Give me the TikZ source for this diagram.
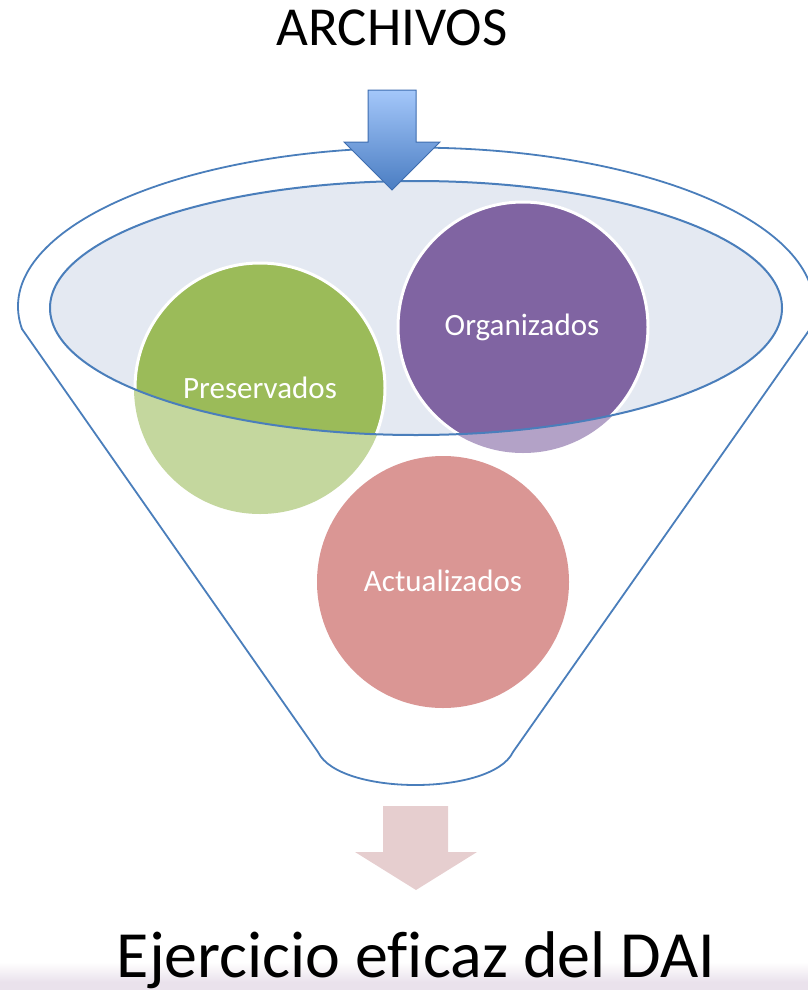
\documentclass[tikz,border=0pt]{standalone}
\usepackage{fontspec}
\setmainfont{Carlito}[Ligatures={NoCommon}]
\definecolor{funblue}{HTML}{4A7EBB}
\definecolor{ellfill}{HTML}{E4E9F2}
\definecolor{greenD}{HTML}{9BBB59}
\definecolor{greenL}{HTML}{C4D79E}
\definecolor{purpD}{HTML}{8064A2}
\definecolor{purpL}{HTML}{B3A2C7}
\definecolor{redL}{HTML}{DA9694}
\definecolor{arrTop}{HTML}{A4C7FA}
\definecolor{arrBot}{HTML}{4A7DC2}
\definecolor{arrEdge}{HTML}{3E6DAF}
\definecolor{pinkarr}{HTML}{E6CECF}
\definecolor{band}{HTML}{EAE2EC}
\tikzset{
  funline/.style={draw=funblue, line width=1.8pt},
  lbl/.style={text=white, font=\fontsize{31}{36}\selectfont, inner sep=0pt},
  bigtxt/.style={font=\fontsize{#1}{#1}\selectfont, inner sep=0pt, text=black},
}
\begin{document}
\begin{tikzpicture}[x=1pt,y=1pt]
\useasboundingbox (0,0) rectangle (808,-990);
% bottom band
\shade[top color=white, bottom color=band] (0,-962) rectangle (808,-982);
\fill[band] (0,-982) rectangle (808,-990);
% outer funnel
\coordinate (lc) at (318,-752);
\coordinate (rc) at (513,-752);
\path[funline, fill=white] (rc) .. controls (492,-796) and (339,-796) .. (lc)
  -- (22,-329) arc[start angle=188.1, end angle=-8.1, x radius=398, y radius=159] -- cycle;
% inner ellipse
\fill[ellfill] (416,-308) ellipse [x radius=366, y radius=127];
% light circles
\fill[greenL] (260,-388) circle (126);
\fill[purpL] (523,-327) circle (126);
\fill[redL] (443,-582) circle (126);
\begin{scope}
  \clip (416,-308) ellipse [x radius=366, y radius=127];
  \filldraw[fill=greenD, draw=white, line width=3pt] (260,-388) circle (125);
  \filldraw[fill=purpD, draw=white, line width=3pt] (523,-327) circle (125);
\end{scope}
\draw[funblue, line width=2pt] (416,-308) ellipse [x radius=366, y radius=127];
% labels
\node[lbl] (pres) at (260,-388) {Preservados};
\node[lbl] (org) at (522,-327) {Organizados};
\node[lbl] (act) at (443,-581) {Actualizados};
% top arrow
\path[top color=arrTop, bottom color=arrBot, draw=arrEdge, line width=1pt]
  (368,-90) -- (416,-90) -- (416,-142) -- (440,-142) -- (392,-190) -- (344,-142) -- (368,-142) -- cycle;
% bottom arrow
\fill[pinkarr] (383,-806) -- (448,-806) -- (448,-852) -- (477,-852) -- (416,-890) -- (355,-852) -- (383,-852) -- cycle;
% texts
\node[bigtxt=55, anchor=base] (arch) at (392,-46) {ARCHIVOS};
\node[bigtxt=66, anchor=base] (ejer) at (416,-977) {Ejercicio eficaz del DAI};
\end{tikzpicture}
\end{document}
